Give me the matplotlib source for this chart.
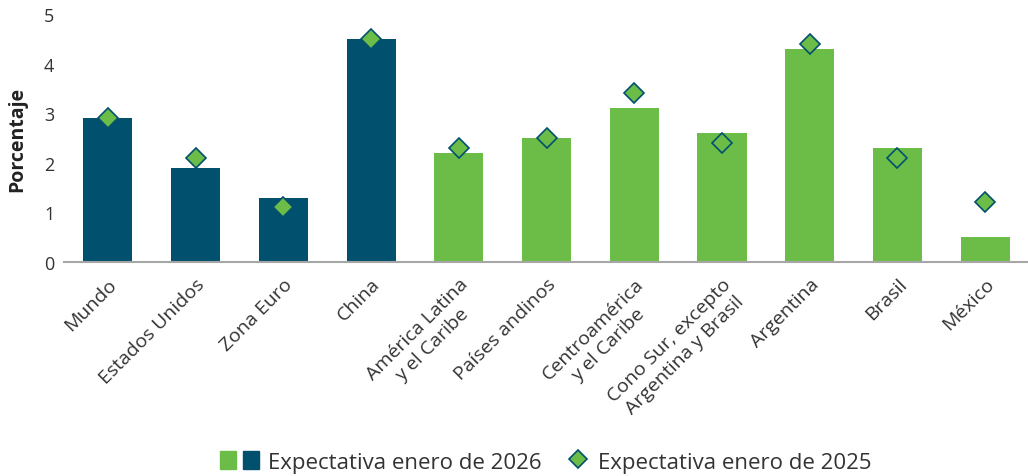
import matplotlib.pyplot as plt
from matplotlib.patches import Patch
from matplotlib.lines import Line2D
from matplotlib.legend_handler import HandlerTuple, HandlerLine2D

plt.rcParams['font.family'] = ['Open Sans', 'DejaVu Sans']

categorias = ['Mundo', 'Estados Unidos', 'Zona Euro', 'China',
              'América Latina\ny el Caribe', 'Países andinos',
              'Centroamérica\ny el Caribe', 'Cono Sur, excepto\nArgentina y Brasil',
              'Argentina', 'Brasil', 'México']
expectativa_2026 = [2.9, 1.9, 1.3, 4.5, 2.2, 2.5, 3.1, 2.6, 4.3, 2.3, 0.5]
expectativa_2025 = [2.9, 2.1, 1.1, 4.5, 2.3, 2.5, 3.4, 2.4, 4.4, 2.1, 1.2]

azul = '#00506E'
verde = '#6CBD48'
colores = [azul] * 4 + [verde] * 7


class MarcadorDerecha(HandlerLine2D):
    # puts the single marker near the right end of the handle box
    def get_xdata(self, legend, xdescent, ydescent, width, height, fontsize):
        xdata = [-xdescent + width - 8, -xdescent + width - 8]
        return xdata, [-xdescent + width - 8]


fig = plt.figure(figsize=(10.28, 4.77), dpi=100)
ax = fig.add_axes([0.0623, 0.4486, 0.9387, 0.52])

x = range(len(categorias))
ax.bar(x, expectativa_2026, width=0.56, color=colores, zorder=2)
ax.plot(x, expectativa_2025, linestyle='none', marker='D', markersize=10,
        markerfacecolor=verde, markeredgecolor=azul, markeredgewidth=1.2, zorder=3)

ax.set_xlim(-0.5, 10.5)
ax.set_ylim(0, 5)
ax.set_yticks([0, 1, 2, 3, 4, 5])
ax.tick_params(axis='y', length=0, labelsize=13, labelcolor='#333333', pad=7)
ax.tick_params(axis='x', length=0, pad=9)
ax.set_xticks(list(x))
ax.set_xticklabels(categorias, rotation=45, ha='right', va='top',
                   rotation_mode='anchor', fontsize=14, color='#333333',
                   multialignment='center', linespacing=1.25)

for lado in ['top', 'right', 'left']:
    ax.spines[lado].set_visible(False)
ax.spines['bottom'].set_color('#A6A6A6')
ax.spines['bottom'].set_linewidth(1.5)

ax.set_ylabel('Porcentaje', fontsize=14, fontweight='bold', color='#222222', labelpad=12)

diamante = Line2D([], [], linestyle='none', marker='D', markersize=9,
                  markerfacecolor=verde, markeredgecolor=azul, markeredgewidth=1.2)
handles = [(Patch(color=verde), Patch(color=azul)), diamante]
fig.legend(handles, ['Expectativa enero de 2026', 'Expectativa enero de 2025'],
           handler_map={tuple: HandlerTuple(ndivide=None, pad=0.35),
                        diamante: MarcadorDerecha()},
           loc='center', bbox_to_anchor=(0.531, 0.03), ncol=2, frameon=False,
           fontsize=16, handlelength=1.75, handleheight=0.9, handletextpad=0.4,
           columnspacing=0.4, labelcolor='#333333')

fig.savefig('out.png', dpi=100)
